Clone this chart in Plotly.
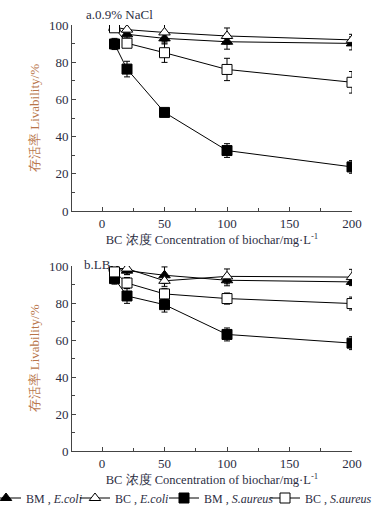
import plotly.graph_objects as go

conc = [10, 20, 50, 100, 200]

# Panel a: 0.9% NaCl
a_bm_ecoli = [98.4, 95.0, 92.8, 91.0, 90.1]
a_bm_ecoli_err = [1.5, 2.0, 3.0, 4.0, 3.5]
a_bc_ecoli = [99.0, 97.5, 96.0, 94.1, 92.0]
a_bc_ecoli_err = [1.5, 3.0, 5.0, 4.3, 3.0]
a_bm_saureus = [89.8, 76.3, 53.0, 32.5, 23.7]
a_bm_saureus_err = [3.0, 4.2, 2.0, 3.7, 3.4]
a_bc_saureus = [98.5, 90.2, 85.1, 76.1, 69.2]
a_bc_saureus_err = [1.5, 2.0, 5.2, 6.0, 5.8]

# Panel b: LB
b_bm_ecoli = [99.5, 97.5, 95.0, 92.3, 91.4]
b_bm_ecoli_err = [1.5, 2.0, 4.5, 3.0, 2.0]
b_bc_ecoli = [98.6, 98.6, 92.0, 94.4, 94.0]
b_bc_ecoli_err = [1.5, 3.3, 3.0, 4.0, 4.2]
b_bm_saureus = [93.2, 83.8, 79.1, 63.0, 58.3]
b_bm_saureus_err = [3.0, 4.0, 4.0, 3.5, 3.5]
b_bc_saureus = [96.8, 90.8, 84.9, 82.4, 79.7]
b_bc_saureus_err = [2.0, 3.0, 3.0, 3.0, 3.5]

legend_names = ["BM , <i>E.coli</i>", "BC , <i>E.coli</i>",
                "BM , <i>S.aureus</i>", "BC , <i>S.aureus</i>"]
x_ticks = [0, 50, 100, 150, 200]
y_ticks = [0, 20, 40, 60, 80, 100]

SERIF = "Liberation Serif, Times New Roman, serif"
TXT = "#2b2d42"
TITLE_Y = "#b8754a"

styles = [
    dict(symbol="triangle-up", color="black", size=10),
    dict(symbol="triangle-up", color="white", size=10),
    dict(symbol="square", color="black", size=10),
    dict(symbol="square", color="white", size=10),
]
legend_ids = ["legend", "legend2", "legend3", "legend4"]
legend_text_px = [26, 115, 204, 305]

fig = go.Figure()

panels = [
    ("x", "y", [a_bm_ecoli, a_bc_ecoli, a_bm_saureus, a_bc_saureus],
     [a_bm_ecoli_err, a_bc_ecoli_err, a_bm_saureus_err, a_bc_saureus_err]),
    ("x2", "y2", [b_bm_ecoli, b_bc_ecoli, b_bm_saureus, b_bc_saureus],
     [b_bm_ecoli_err, b_bc_ecoli_err, b_bm_saureus_err, b_bc_saureus_err]),
]

for pi, (xa, ya, series, errs) in enumerate(panels):
    for si in range(4):
        st = styles[si]
        fig.add_trace(go.Scatter(
            x=conc, y=series[si], xaxis=xa, yaxis=ya,
            mode="lines+markers",
            name=legend_names[si],
            legend=legend_ids[si],
            showlegend=(pi == 0),
            line=dict(color="black", width=1),
            marker=dict(symbol=st["symbol"], color=st["color"], size=st["size"],
                        line=dict(color="black", width=1)),
            error_y=dict(type="data", array=errs[si], visible=True,
                         color="black", thickness=1, width=3),
        ))

xdom = [72 / 389, 352 / 389]
ydom_a = [(508 - 211) / 508, (508 - 25) / 508]
ydom_b = [(508 - 451) / 508, (508 - 266) / 508]

xaxis_common = dict(
    range=[-24, 200], tickvals=x_ticks, ticks="inside", ticklen=4,
    tickcolor="#444", showline=True, linecolor="#444", linewidth=1,
    showgrid=False, zeroline=False, mirror=False, automargin=False,
    minor=dict(tickvals=[25, 75, 125, 175], ticks="inside", ticklen=3, tickcolor="#444"),
    tickfont=dict(family=SERIF, size=13, color=TXT),
    title=dict(text="BC 浓度 Concentration of biochar/mg·L<sup>-1</sup>",
               font=dict(family=SERIF, size=12.5, color=TXT), standoff=4),
    domain=xdom,
)
yaxis_common = dict(
    range=[0, 100], tickvals=y_ticks, ticks="inside", ticklen=4,
    tickcolor="#444", showline=True, linecolor="#444", linewidth=1,
    showgrid=False, zeroline=False, automargin=False,
    minor=dict(tickvals=[10, 30, 50, 70, 90], ticks="inside", ticklen=3, tickcolor="#444"),
    tickfont=dict(family=SERIF, size=13, color=TXT),
    title=dict(text="存活率 Livability/%",
               font=dict(family=SERIF, size=13, color=TITLE_Y), standoff=6),
)

legend_layout = {}
for lid, tx in zip(legend_ids, legend_text_px):
    legend_layout[lid] = dict(
        orientation="v", x=(tx - 40) / 389, xanchor="left", y=10 / 508, yanchor="middle",
        font=dict(family=SERIF, size=12, color=TXT),
        itemwidth=30, bgcolor="rgba(0,0,0,0)", borderwidth=0,
    )

fig.update_layout(
    width=389, height=508,
    margin=dict(l=0, r=0, t=0, b=0, autoexpand=False),
    paper_bgcolor="white", plot_bgcolor="white",
    xaxis=dict(**xaxis_common, anchor="y"),
    yaxis=dict(**yaxis_common, domain=ydom_a, anchor="x"),
    xaxis2=dict(**xaxis_common, anchor="y2"),
    yaxis2=dict(**yaxis_common, domain=ydom_b, anchor="x2"),
    annotations=[
        dict(text="a.0.9% NaCl", x=84 / 389, y=(508 - 15) / 508, xref="paper", yref="paper",
             xanchor="left", yanchor="middle", showarrow=False,
             font=dict(family=SERIF, size=13, color=TXT)),
        dict(text="b.LB", x=82 / 389, y=(508 - 264) / 508, xref="paper", yref="paper",
             xanchor="left", yanchor="middle", showarrow=False,
             font=dict(family=SERIF, size=13, color=TXT)),
    ],
    **legend_layout,
)

fig.write_html("out.html", config={"displayModeBar": False},
               post_script="document.body.style.margin='0';")
